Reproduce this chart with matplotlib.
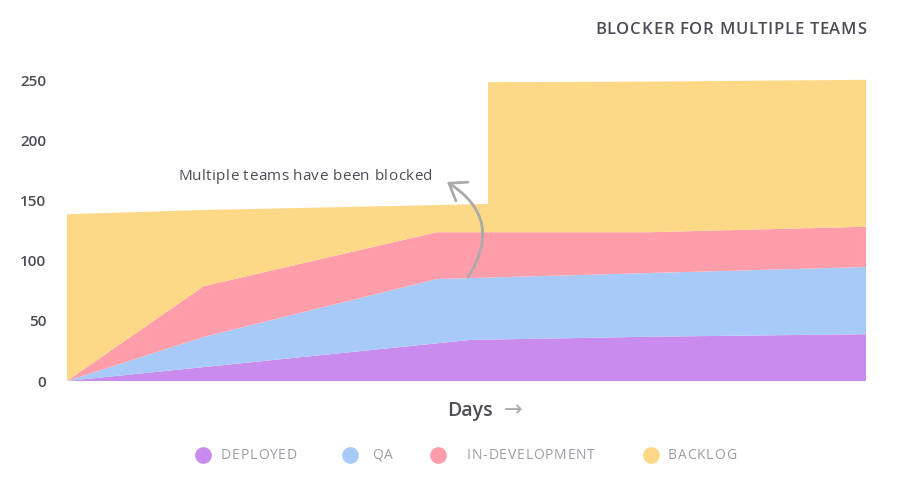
import matplotlib
matplotlib.use("Agg")
import matplotlib.pyplot as plt
from matplotlib.font_manager import FontProperties

# ---------------- data ----------------
days = [0, 17.1, 46.3, 50.4, 52.7, 52.7, 73.0, 100]
deployed = [0, 11.6, 31.4, 34.2, 34.5, 34.5, 36.9, 39.0]
qa = [0, 25.1, 53.6, 51.6, 51.7, 51.7, 53.1, 56.0]
in_development = [0, 42.3, 39.0, 38.2, 37.8, 37.8, 34.0, 33.6]
backlog = [139, 63.5, 22.6, 23.2, 23.5, 125.0, 125.5, 122.4]

series_labels = ["DEPLOYED", "QA", "IN-DEVELOPMENT", "BACKLOG"]
series_colors = ["#CA8BEE", "#A8CAF8", "#FF9EAA", "#FDD886"]
y_ticks = [0, 50, 100, 150, 200, 250]
title = "BLOCKER FOR MULTIPLE TEAMS"
note = "Multiple teams have been blocked"

W, H = 902, 494
DARK = "#4d4d57"
GRAY = "#9c9ca6"

fig = plt.figure(figsize=(W / 100, H / 100), dpi=100)
ax = fig.add_axes([67 / W, (H - 381) / H, 799 / W, 312 / H])
ax.stackplot(days, deployed, qa, in_development, backlog,
             colors=series_colors, linewidth=0)
ax.set_xlim(0, 100)
ax.set_ylim(0, 260)
ax.set_yticks(y_ticks)
ax.set_xticks([])
for s in ax.spines.values():
    s.set_visible(False)
ax.tick_params(axis="y", length=0, pad=15, labelsize=11, labelcolor=DARK)
for lbl in ax.get_yticklabels():
    lbl.set_fontfamily("Open Sans")
    lbl.set_fontweight("semibold")

# overlay in pixel coordinates
ov = fig.add_axes([0, 0, 1, 1], facecolor="none")
ov.set_xlim(0, W)
ov.set_ylim(H, 0)
ov.axis("off")

renderer = fig.canvas.get_renderer()


def spaced(x, y, s, size, color, spacing=0.0, ha="left", width=None,
           weight="normal", family="Open Sans"):
    prop = FontProperties(family=family, size=size, weight=weight)
    w0 = renderer.get_text_width_height_descent("xx", prop, False)[0]
    advs = [renderer.get_text_width_height_descent("x" + c + "x", prop, False)[0] - w0
            for c in s]
    if width is not None:
        spacing = (width - sum(advs[:-1]) -
                   renderer.get_text_width_height_descent(s[-1], prop, False)[0]) / (len(s) - 1)
    total = sum(advs) + spacing * (len(s) - 1)
    if ha == "right":
        x = x - total
    elif ha == "center":
        x = x - total / 2
    pos = x
    for c, a in zip(s, advs):
        ov.text(pos, y, c, fontproperties=prop, color=color, va="center", ha="left")
        pos += a + spacing


# title
spaced(595, 30, title, 12, DARK, width=271, weight="semibold")

# annotation
spaced(178, 176, note, 11, DARK, width=254)
ov.annotate("", xy=(447, 182), xytext=(468, 277),
            arrowprops=dict(arrowstyle="->,head_length=0.55,head_width=0.4",
                            connectionstyle="arc3,rad=0.5", color="#aaaaaa",
                            lw=2, mutation_scale=20, shrinkA=0, shrinkB=0))

# x label
ov.text(447, 411, "Days", fontsize=14, color=DARK, fontfamily="Open Sans",
        fontweight="semibold", va="center", ha="left")
ov.text(504, 410, "\u2192", fontsize=16, color="#a8a8b0", fontfamily="DejaVu Sans",
        va="center", ha="left")

# legend
marker_x = [203, 350, 438, 651]
text_x = [221, 372, 467, 668]
for mx, tx, lab, col in zip(marker_x, text_x, series_labels, series_colors):
    ov.plot([mx], [455], marker="o", markersize=11, color=col, linestyle="none")
    spaced(tx, 455, lab, 10, GRAY, spacing=0.8)

fig.savefig("out.png", dpi=100)
